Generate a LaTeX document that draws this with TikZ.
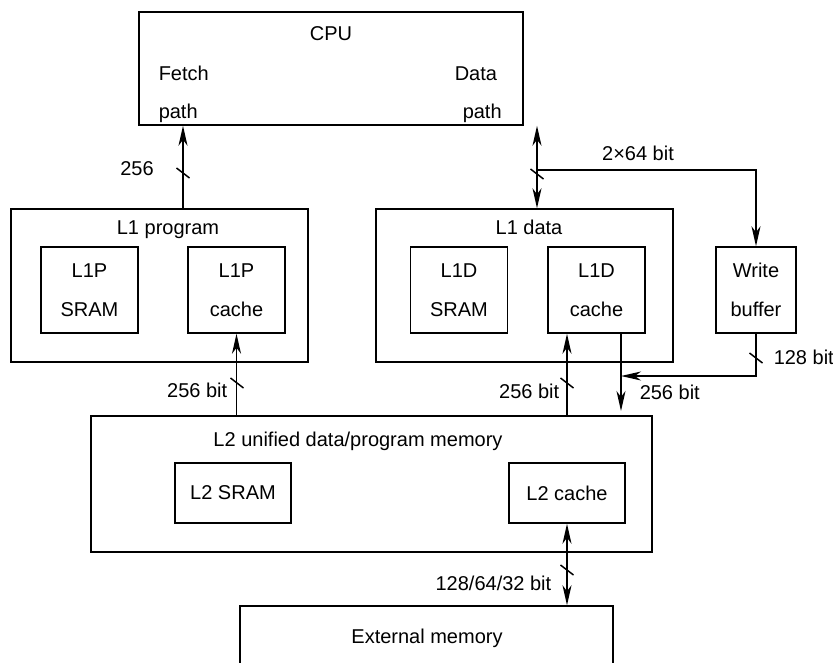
\documentclass[tikz,border=0pt]{standalone}
\usepackage{fontspec}
\setmainfont{Liberation Sans}
\usetikzlibrary{arrows.meta}

\newcommand{\busmark}[1]{\draw ([shift={(-6.5,-5)}]#1) -- ([shift={(6.5,5)}]#1);}

\begin{document}
\begin{tikzpicture}[x=1pt,y=-1pt,
    font=\fontsize{20}{39}\selectfont,
    line width=1.5pt,
    >={Stealth[length=20pt,width=9pt,inset=6pt]},
    blk/.style={draw,rectangle,inner sep=0pt},
    mem/.style={blk,minimum width=97pt,minimum height=86pt,align=center},
    txt/.style={inner sep=0pt,anchor=base}]
        \useasboundingbox (0,0) rectangle (833,662);
        \clip (0,0) rectangle (833,662);
        % blocks
        \node[blk,minimum width=384pt,minimum height=113pt] (cpu) at (331,68.5) {};
        \node[blk,minimum width=297pt,minimum height=153pt] (l1p) at (159.5,285.5) {};
        \node[mem] (l1psram) at (89.5,290) {L1P\\SRAM};
        \node[mem] (l1pcache) at (236.5,290) {L1P\\cache};
        \node[blk,minimum width=297pt,minimum height=153pt] (l1d) at (524.5,285.5) {};
        \node[mem] (l1dsram) at (459,290) {L1D\\SRAM};
        \node[mem] (l1dcache) at (596.5,290) {L1D\\cache};
        \node[mem,minimum width=80pt] (wbuf) at (756,290) {Write\\buffer};
        \node[blk,minimum width=561pt,minimum height=136pt] (l2) at (371.5,484) {};
        \node[blk,minimum width=116pt,minimum height=60pt] (l2sram) at (233,493) {L2 SRAM};
        \node[blk,minimum width=116pt,minimum height=60pt] (l2cache) at (567,493) {L2 cache};
        \node[blk,minimum width=373pt,minimum height=120pt] (ext) at (426.5,666) {};
        % titles
        \node[txt] (cpulbl) at (331,40) {CPU};
        \node[txt,anchor=base west] (fetch) at (158,80) {Fetch};
        \node[txt,anchor=base west] (fetchpath) at (158,118) {path};
        \node[txt,anchor=base west] (data) at (454,80) {Data};
        \node[txt,anchor=base west] (datapath) at (462,118) {path};
        \node[txt] (l1plbl) at (168,234) {L1 program};
        \node[txt] (l1dlbl) at (529,234) {L1 data};
        \node[txt] (l2lbl) at (358,446) {L2 unified data/program memory};
        \node[txt] (extlbl) at (427,643) {External memory};
        % buses
        \coordinate (fx) at (183,0);
        \coordinate (dx) at (537,0);
        \coordinate (split) at (537,170);
        \coordinate (ux) at (567,0);
        \coordinate (dn) at (621,411);
        \coordinate (join) at (621,376);
        \draw[->] (l1p.north -| fx) -- (cpu.south -| fx);
        \draw[<->] (cpu.south -| dx) -- (l1d.north -| dx);
        \draw[->] (split) -| (wbuf.north);
        \draw[->] (l2.north -| l1pcache.south) -- (l1pcache.south);
        \draw[->] (l2.north -| ux) -- (l1dcache.south -| ux);
        \draw[->] (l1dcache.south -| dn) -- (dn);
        \draw[->] (wbuf.south) |- (join);
        \draw[<->] (l2cache.south) -- (ext.north -| l2cache.south);
        \busmark{183,173} \busmark{537,174} \busmark{237,383}
        \busmark{567,383} \busmark{756,358} \busmark{567,570}
        % bus widths
        \node[txt] (w256) at (137,175) {256};
        \node[txt] (w2x64) at (638,160) {2×64 bit};
        \node[txt,anchor=base east] (wl1p) at (228,397) {256 bit};
        \node[txt,anchor=base east] (wl1d) at (560,398) {256 bit};
        \node[txt,anchor=base west] (w128) at (773,364) {128 bit};
        \node[txt,anchor=base west] (wdn) at (639,399) {256 bit};
        \node[txt,anchor=base east] (wext) at (552,590) {128/64/32 bit};
      \end{tikzpicture}
\end{document}
